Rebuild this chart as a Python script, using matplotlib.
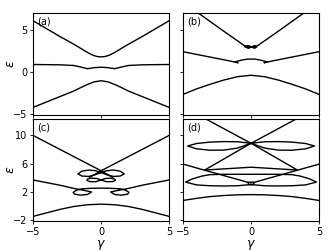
import numpy as np
import matplotlib.pyplot as plt

# ---- panel (a) ----
a_top_x = [-5, -4, -3, -2, -1.5, -1.2, -0.9, -0.6, -0.3, 0, 0.3, 0.6, 0.9, 1.2, 1.5, 2, 3, 4, 5]
a_top_y = [6.1, 5.15, 4.2, 3.3, 2.82, 2.52, 2.24, 2.0, 1.85, 1.8, 1.85, 2.0, 2.24, 2.52, 2.82, 3.3, 4.2, 5.15, 6.1]
a_mid_x = [-5, -3, -2, -1.5, -1, -0.5, 0, 0.5, 1, 1.5, 2, 3, 5]
a_mid_y = [0.9, 0.86, 0.78, 0.6, 0.4, 0.52, 0.58, 0.52, 0.4, 0.6, 0.78, 0.86, 0.9]
a_bot_x = [-5, -4, -3, -2, -1.5, -1, -0.5, 0, 0.5, 1, 1.5, 2, 3, 4, 5]
a_bot_y = [-4.2, -3.55, -2.9, -2.25, -1.85, -1.47, -1.16, -1.03, -1.16, -1.47, -1.85, -2.25, -2.9, -3.55, -4.2]

# ---- panel (b) ----
b_v_x = [-3.95, -2, -0.5, -0.2, 0.05, -0.2, -0.45, -0.2, 0.05, 0.25, 0.42, 0.25, 0.05, 0.2, 0.5, 2, 3.95]
b_v_y = [7.1, 4.85, 3.15, 2.95, 2.98, 3.15, 3.0, 2.82, 2.98, 3.15, 2.98, 2.82, 2.98, 2.95, 3.15, 4.85, 7.1]
b_mid_x = [-5, -3, -1.5, -0.95, -1.15, -0.7, -0.3, 0, 0.3, 0.7, 1.15, 0.95, 1.5, 3, 5]
b_mid_y = [2.42, 1.78, 1.3, 1.1, 1.22, 1.42, 1.53, 1.55, 1.53, 1.42, 1.22, 1.1, 1.3, 1.78, 2.42]
b_bot_x = [-5, -4, -3, -2, -1, 0, 1, 2, 3, 4, 5]
b_bot_y = [-2.66, -2.0, -1.45, -0.95, -0.55, -0.38, -0.55, -0.95, -1.45, -2.0, -2.66]

# ---- panel (c) ----
c_x1_x = [-5, 0, 0.85]
c_x1_y = [10, 5, 4.05]
c_x2_x = [5, 0, -0.85]
c_x2_y = [10, 5, 4.05]
c_pet_x = [0, 0.4, 0.9, 1.4, 1.7, 1.4, 0.9, 0.4, 0, -0.4, -0.9, -1.4, -1.7, -1.4, -0.9, -0.4, 0]
c_pet_y = [4.75, 5.0, 5.1, 4.95, 4.55, 4.25, 4.2, 4.45, 4.75, 5.0, 5.1, 4.95, 4.55, 4.25, 4.2, 4.45, 4.75]
c_low_x = [0, 0.3, 0.7, 1.0, 1.05, 0.85, 0.4, 0, -0.3, -0.7, -1.0, -1.05, -0.85, -0.4, 0]
c_low_y = [3.7, 3.9, 3.95, 3.82, 3.65, 3.47, 3.45, 3.7, 3.9, 3.95, 3.82, 3.65, 3.47, 3.45, 3.7]
c_mid_x = [-5, -3, -2.0, -1.3, -0.7, -1.0, -1.5, -1.95, -2.05, -1.8, -1.4, -0.7, 0,
           0.7, 1.4, 1.8, 2.05, 1.95, 1.5, 1.0, 0.7, 1.3, 2.0, 3, 5]
c_mid_y = [3.7, 2.95, 2.5, 2.25, 2.0, 1.65, 1.55, 1.7, 1.95, 2.25, 2.45, 2.52, 2.55,
           2.52, 2.45, 2.25, 1.95, 1.7, 1.55, 1.65, 2.0, 2.25, 2.5, 2.95, 3.7]
c_bot_x = [-5, -4, -3, -2, -1, 0, 1, 2, 3, 4, 5]
c_bot_y = [-1.45, -0.95, -0.45, -0.05, 0.2, 0.28, 0.2, -0.05, -0.45, -0.95, -1.45]

# ---- panel (d) ----
d_x1_x = [-3.3, 0, 3.4, 0, -3.4]
d_x1_y = [12.3, 8.88, 5.1, 5.5, 5.1]
d_x2_x = [3.3, 0, -3.4]
d_x2_y = [12.3, 8.88, 5.1]
d_up_x = [0, 1, 2, 3, 4, 4.65, 4, 3, 2, 1, 0, -1, -2, -3, -4, -4.65, -4, -3, -2, -1, 0]
d_up_y = [8.88, 9.1, 9.12, 9.05, 8.85, 8.5, 8.1, 7.9, 7.92, 8.2, 8.88, 9.1, 9.12, 9.05, 8.85, 8.5, 8.1, 7.9, 7.92, 8.2, 8.88]
d_e1_x = [-5, -0.2, 0.2, 0.2, -0.2, -0.2, 0.2, 5]
d_e1_y = [5.94, 3.35, 3.35, 3.05, 3.05, 3.35, 3.35, 5.94]
d_low_x = [0, -1, -2, -3, -4, -4.8, -4.3, -3.6, -3.0, -2, -1, 0, 1, 2, 3.0, 3.6, 4.3, 4.8, 4, 3, 2, 1, 0]
d_low_y = [3.05, 2.88, 2.85, 2.88, 3.0, 3.4, 3.85, 4.25, 4.45, 4.5, 4.5, 4.5, 4.5, 4.5, 4.45, 4.25, 3.85, 3.4, 3.0, 2.88, 2.85, 2.88, 3.05]
d_bot_x = [-5, -4, -3, -2, -1, 0, 1, 2, 3, 4, 5]
d_bot_y = [0.8, 1.1, 1.35, 1.5, 1.6, 1.63, 1.6, 1.5, 1.35, 1.1, 0.8]

panels = {
    '(a)': [(a_top_x, a_top_y), (a_mid_x, a_mid_y), (a_bot_x, a_bot_y)],
    '(b)': [(b_v_x, b_v_y), (b_mid_x, b_mid_y), (b_bot_x, b_bot_y)],
    '(c)': [(c_x1_x, c_x1_y), (c_x2_x, c_x2_y), (c_pet_x, c_pet_y),
            (c_low_x, c_low_y), (c_mid_x, c_mid_y), (c_bot_x, c_bot_y)],
    '(d)': [(d_x1_x, d_x1_y), (d_x2_x, d_x2_y), (d_up_x, d_up_y),
            (d_e1_x, d_e1_y), (d_low_x, d_low_y), (d_bot_x, d_bot_y)],
}

fig, axes = plt.subplots(2, 2, figsize=(3.36, 2.52), dpi=100, sharex=True, sharey='row')
fig.subplots_adjust(left=0.098, right=0.95, top=0.948, bottom=0.123, wspace=0.1, hspace=0.04)

for ax, (label, curves) in zip(axes.flat, panels.items()):
    for xs, ys in curves:
        ax.plot(xs, ys, color='black', lw=1.0)
    ax.text(0.03, 0.97, label, transform=ax.transAxes, ha='left', va='top', fontsize=7)
    ax.tick_params(labelsize=7, length=2.5, width=0.6, pad=1.5)
    for s in ax.spines.values():
        s.set_linewidth(0.8)

axes[0, 0].set_xlim(-5, 5)
axes[0, 0].set_ylim(-5.1, 7.0)
axes[0, 0].set_yticks([-5, 0, 5])
axes[1, 0].set_ylim(-2.1, 12.3)
axes[1, 0].set_yticks([-2, 2, 6, 10])
axes[1, 0].set_xticks([-5, 0, 5])

for ax in axes[:, 0]:
    ax.set_ylabel(r'$\epsilon$', fontsize=9)
    ax.yaxis.set_label_coords(-0.12, 0.5)
for ax in axes[1, :]:
    ax.set_xlabel(r'$\gamma$', fontsize=9, labelpad=1)

fig.savefig('out.png', dpi=100)
